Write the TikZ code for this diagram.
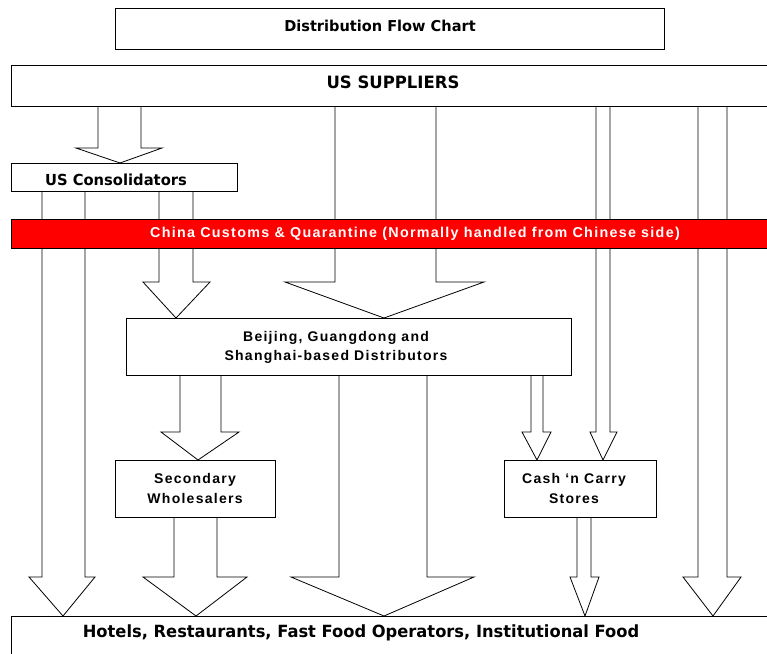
\documentclass[tikz,border=0pt]{standalone}
\usepackage{fontspec}
\newfontfamily\vfont{DejaVu Sans}[FakeStretch=0.97]
\newfontfamily\afont{Liberation Sans}[LetterSpace=9]
\tikzset{
  x=1pt, y=-1pt,
  box/.style={draw=black, line width=1pt, fill=white, inner sep=0pt, anchor=north west},
  vtext/.style={font=\vfont\bfseries\fontsize{15}{18}\selectfont, inner sep=0pt, text=black},
  atext/.style={font=\afont\bfseries\fontsize{14}{19.5}\selectfont, inner sep=0pt, align=center, text=black},
  barrowline/.style={draw=black, line width=0.8pt, fill=white},
}
% block arrow: #1 source node, #2 target node, #3 #4 shaft x, #5 #6 head x, #7 neck y, #8 tip x
\newcommand\blockarrow[8]{%
  \draw[barrowline] (#3,0 |- #1.south) -- (#3,#7) -- (#5,#7) -- (#8,0 |- #2.north)
    -- (#6,#7) -- (#4,#7) -- (#4,0 |- #1.south);}
\begin{document}
\begin{tikzpicture}
\useasboundingbox (0,0) rectangle (767,653);
\fill[white] (0,0) rectangle (767,653);
% boxes
\node[box, minimum width=549pt, minimum height=41pt] (title) at (115,8) {};
\node[box, minimum width=770pt, minimum height=41pt] (sup) at (10.5,65) {};
\node[box, minimum width=226pt, minimum height=28pt] (cons) at (11,163) {};
\node[box, minimum width=445pt, minimum height=57pt] (beij) at (126,318) {};
\node[box, minimum width=160pt, minimum height=57pt] (sec) at (115,460) {};
\node[box, minimum width=152pt, minimum height=57pt] (cash) at (504,460) {};
\node[box, minimum width=770pt, minimum height=50pt] (hotel) at (11,616) {};
% block arrows
\blockarrow{sup}{cons}{98}{141}{76}{162}{148}{120}
\blockarrow{cons}{hotel}{42}{85}{29}{95}{577}{63}
\blockarrow{cons}{beij}{159}{193}{143}{210}{282}{176}
\blockarrow{sup}{beij}{335}{436}{285}{484}{282}{384}
\blockarrow{sup}{cash}{596}{610}{590}{617}{432}{603}
\blockarrow{sup}{hotel}{698}{727}{683}{741}{577}{713}
\blockarrow{beij}{sec}{180}{221}{161}{239}{432}{198}
\blockarrow{beij}{hotel}{339}{427}{291}{474}{577}{384}
\blockarrow{beij}{cash}{531}{543}{522}{551}{432}{537}
\blockarrow{sec}{hotel}{174}{217}{143}{247}{577}{196}
\blockarrow{cash}{hotel}{577}{591}{570}{599}{577}{585}
% red bar
\node[box, fill=red, minimum width=770pt, minimum height=29pt] (customs) at (11,219) {};
% texts
\node[vtext] (ttitle) at (380,26) {Distribution Flow Chart};
\node[vtext, font=\vfont\bfseries\fontsize{17}{20}\selectfont] (tsup) at (393,82) {US SUPPLIERS};
\node[vtext, font=\vfont\bfseries\fontsize{15.2}{18}\selectfont] (tcons) at (116,179.5) {US Consolidators};
\node[atext, text=white, font=\afont\bfseries\fontsize{14.3}{18}\selectfont] (tcustoms) at (415,234) {China Customs \& Quarantine (Normally handled from Chinese side)};
\node[atext] (tbeij) at (336,347.5) {Beijing, Guangdong and\\Shanghai-based Distributors};
\node[atext] (tsec) at (195,488.5) {Secondary\\Wholesalers};
\node[atext] (tcash) at (574,488.5) {Cash ‘n Carry\\Stores};
\node[vtext, font=\vfont\bfseries\fontsize{16.8}{20}\selectfont] (thotel) at (361,633) {Hotels, Restaurants, Fast Food Operators, Institutional Food};
\end{tikzpicture}
\end{document}
